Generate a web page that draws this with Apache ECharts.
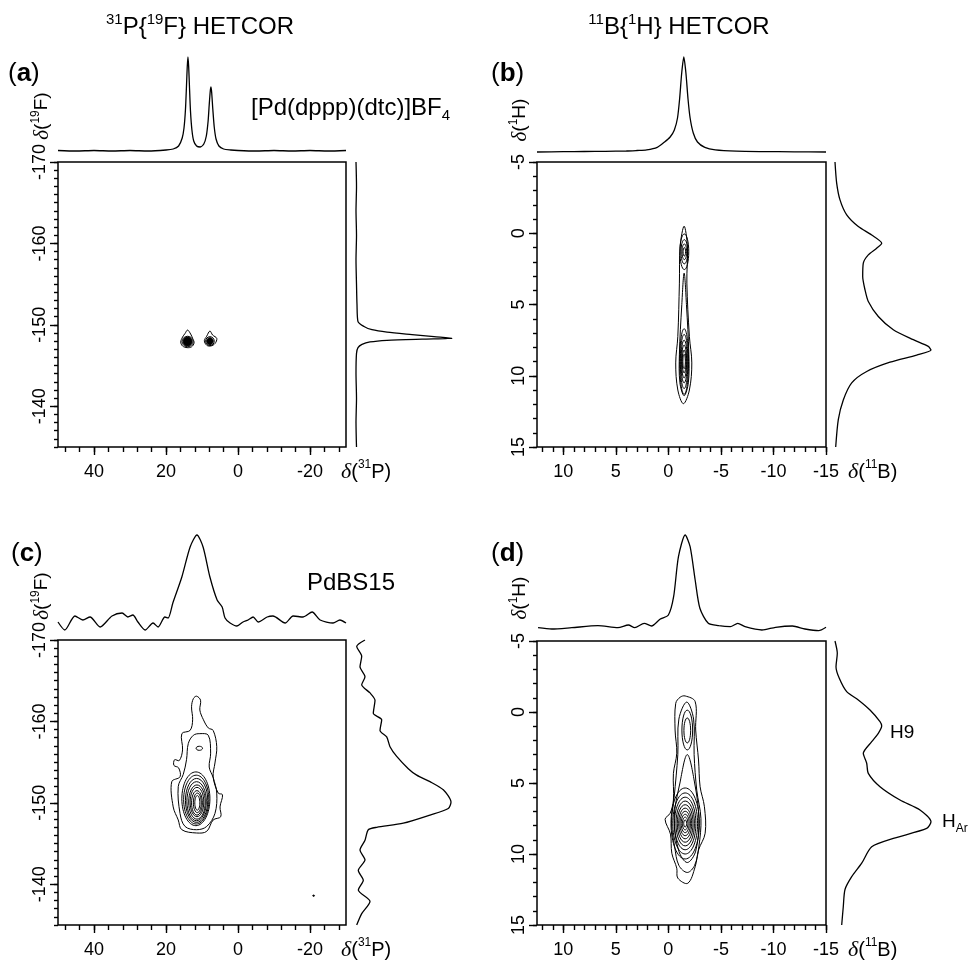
<!DOCTYPE html>
<html>
<head>
<meta charset="utf-8">
<script src="https://cdn.jsdelivr.net/npm/echarts@6/dist/echarts.min.js"></script>
<style>
  html, body { margin: 0; padding: 0; background: #fff; }
  #main { width: 970px; height: 961px; }
</style>
</head>
<body>
<div id="main"></div>
<script>
// ---- tick labels ----
const pTicks = [40, 20, 0, -20];            // δ(31P), panels a / c
const fTicks = [-170, -160, -150, -140];    // δ(19F)
const bTicks = [10, 5, 0, -5, -10, -15];    // δ(11B), panels b / d
const hTicks = [-5, 0, 5, 10, 15];          // δ(1H)

// ---- projections: top = [ppm, intensity], right = [intensity, ppm] ----
const projA_top = [[50,4.5],[45,4],[40,4.5],[35,4],[30,4.5],[25,4],[20,5],[18,6],[16.5,9],[15.5,17],[15,27],[14.6,45],[14.3,70],[14.1,88],[13.9,98],[13.7,88],[13.5,70],[13.2,44],[12.8,25],[12.3,14],[11.5,9],[10.5,8],[9.5,11],[8.8,19],[8.3,34],[8.0,50],[7.7,64],[7.5,68],[7.3,62],[7.0,46],[6.6,28],[6.1,16],[5.3,9],[4,6],[2,5],[0,4.5],[-5,4],[-10,4.5],[-15,4],[-20,4.5],[-25,4],[-30,4.5]];
const projA_right = [[4,-170],[4.5,-167],[4,-164],[4.5,-161],[4,-158],[4.5,-155],[5,-152.5],[6,-150.4],[12,-149.8],[20,-149.4],[35,-149.1],[60,-148.8],[82,-148.55],[100,-148.35],[70,-148.25],[35,-148.1],[18,-147.9],[10,-147.6],[6,-147.2],[4.5,-146.5],[4,-144],[4.5,-141],[4,-138],[4.5,-135]];
const projB_top = [[12.5,3],[10,3.3],[8,3.5],[6,3.7],[4,4],[3,4.5],[2.06,5.1],[1.06,7.6],[0.36,13],[-0.17,18],[-0.57,25],[-0.87,37],[-1.07,56],[-1.27,82],[-1.47,98],[-1.67,82],[-1.87,56],[-2.07,37],[-2.37,22],[-2.77,13],[-3.47,7.6],[-4.47,5.1],[-6.47,3.8],[-9,3.4],[-12,3.2],[-15,3]];
const projB_right = [[3,-5],[4.7,-3.5],[8,-2.34],[14.7,-1.29],[26.3,-0.47],[39.7,0.12],[49.7,0.7],[44.7,1.05],[36.3,1.52],[31.3,2.1],[30.7,3.04],[33,3.97],[36.3,4.79],[46.3,5.84],[61.3,6.77],[81.3,7.47],[96.3,7.94],[99,8.2],[84.7,8.55],[58,9.05],[34.7,9.7],[19.7,10.5],[11.3,11.7],[6.3,13.08],[3.7,15]];
const projC_top = [[50,11],[48.1,3],[45.3,17],[43.1,13],[41.1,16],[38.3,6],[35,17],[32.2,20],[30.6,16],[29.2,18],[27.8,11],[25.8,3],[23.6,10],[22.2,6],[20.3,16],[19.4,15],[18.1,30],[15.6,56],[13.3,86],[11.4,98],[9.7,86],[7.8,56],[5.8,33],[4.4,26],[3.6,15],[2.2,10],[0.3,7],[-1.4,11],[-2.8,13],[-4.2,16],[-5.6,11],[-8.1,16],[-9.7,17],[-13.1,10],[-15.3,17],[-18.1,16],[-20.6,21],[-22.8,13],[-26.4,10],[-28.3,13],[-30,10]];
const projC_right = [[13,-170],[4.7,-169.2],[9.7,-168],[8,-166.7],[13,-165.5],[9.7,-164.5],[18,-163.5],[23,-162.6],[21.3,-161],[29.7,-160.2],[28,-158.9],[34.7,-158.1],[38,-156.9],[44.7,-155.7],[56.3,-154.2],[64.7,-153.4],[78,-152.6],[91.3,-151.6],[99,-150.1],[96.3,-149.3],[78,-148.5],[51.3,-147.5],[24.7,-147],[16.3,-146.7],[13,-145.4],[8,-144.2],[13,-143],[6.3,-141.7],[11.3,-140.5],[6.3,-139.3],[18,-137.9],[9.7,-136.4],[4.7,-135]];
const projD_top = [[12.4,5.3],[11.1,4],[9.2,5.3],[6.7,7.3],[4.8,5.3],[3.8,8],[3.2,5.3],[2.3,9.7],[1.6,7],[0.8,13.7],[0,18],[-0.5,36.3],[-0.96,76.3],[-1.6,98],[-2.07,86.3],[-2.55,53],[-3.0,24.7],[-3.8,9.7],[-4.8,7.3],[-5.9,6.3],[-6.6,9.7],[-7.3,6.3],[-8.9,3],[-10.2,5.7],[-11.8,7],[-13,4],[-14.3,2.3],[-15,5.7]];
const projD_right = [[3,-5],[5.3,-4.13],[4,-3.19],[7.3,-2.37],[14.7,-1.43],[26.3,-0.85],[38,-0.14],[48,0.68],[49.7,0.99],[46.3,1.5],[39.7,2.09],[31.3,2.91],[34.7,3.61],[36.3,4.32],[48,5.26],[68,6.2],[88,6.9],[99,7.73],[94.7,8.2],[61.3,8.9],[39.7,9.49],[29.7,10.65],[19.7,11.6],[13,12.5],[11.3,13.7],[9.7,15]];

// ---- contours: rings = [cx, cy, rx, ry, filled], outlines = [[x, y], ...] (ppm) ----
const ringsA = [[14.0,-147.95,1.55,0.65,0],[14.0,-147.95,1.25,0.55,1],[7.8,-148.0,1.2,0.55,0],[7.8,-148.0,0.9,0.42,1]];
const outlinesA = [
  [[14.0,-149.36],[13.15,-148.87],[12.6,-148.34],[12.2,-147.8],[12.9,-147.3],[14.1,-147.2],[15.4,-147.4],[15.9,-147.9],[15.4,-148.5],[14.7,-148.95]],
  [[7.8,-149.24],[7.05,-148.75],[5.9,-148.34],[6.4,-147.7],[7.6,-147.4],[8.7,-147.5],[9.35,-148.05],[8.7,-148.6]]
];
const ringsB = [[-1.52,1.3,0.42,1.25,0],[-1.52,1.3,0.32,0.85,0],[-1.52,1.3,0.22,0.55,0],[-1.52,1.3,0.12,0.3,0],
  [-1.5,9.0,0.42,2.3,0],[-1.5,9.0,0.36,1.9,0],[-1.5,9.0,0.3,1.5,0],[-1.5,9.0,0.24,1.15,0],[-1.5,9.0,0.18,0.8,0],[-1.5,9.0,0.12,0.5,0]];
const outlinesB = [
  [[-1.5,-0.5],[-1.81,0.93],[-1.76,3.5],[-2.0,7.24],[-2.23,9.1],[-2.0,11.0],[-1.43,11.96],[-0.9,11.0],[-0.7,9.1],[-0.9,7.24],[-1.05,3.5],[-1.12,0.93]],
  [[-1.5,2.8],[-1.72,5.0],[-1.95,8.5],[-1.9,10.5],[-1.5,11.4],[-1.1,10.5],[-1.05,8.5],[-1.28,5.0]]
];
const ringsC = [[11.3,-150.0,0.7,0.9,0],[11.3,-150.0,1.1,1.2,0],[11.4,-150.0,1.5,1.5,0],[11.4,-150.1,1.9,1.8,0],[11.4,-150.1,2.3,2.1,0],
  [11.5,-150.2,2.7,2.4,0],[11.5,-150.3,3.1,2.7,0],[11.6,-150.4,3.5,3.0,0],[11.7,-150.5,3.9,3.3,0],[10.75,-156.7,0.9,0.25,0],[-21,-138.6,0.25,0.08,1]];
const outlinesC = [
  [[11.5,-163.1],[10.4,-162.6],[10.6,-161.4],[9.6,-160.2],[8.25,-159.2],[6.9,-158.9],[5.9,-156.9],[6.4,-154.9],[6.9,-153.2],[5.5,-151.2],[4.3,-151.0],[5.0,-149.5],[4.8,-148.3],[6.9,-147.9],[8.7,-146.5],[11.5,-146.3],[15.6,-146.7],[16.6,-147.9],[18.0,-149.5],[18.4,-152.6],[16.1,-153.2],[16.5,-154.3],[17.8,-154.6],[17.6,-155.3],[16.3,-155.2],[15.4,-156.5],[15.6,-158.5],[13.3,-158.9],[12.6,-160.2],[12.9,-161.8],[12.4,-162.8]],
  [[10.6,-158.5],[8.25,-158.3],[7.6,-156.1],[8.0,-154.4],[6.9,-153.1],[5.9,-151.2],[6.4,-148.7],[8.7,-147.1],[11.5,-146.7],[14.7,-147.1],[16.1,-148.7],[16.6,-152.0],[15.2,-153.5],[14.3,-155.3],[13.8,-157.3],[12.4,-158.3]]
];
const ringsD = [[-1.8,1.27,0.51,1.4,0],[-1.8,1.3,0.32,0.88,0],
  [-1.6,7.85,1.35,2.5,0],[-1.6,7.85,1.18,2.15,0],[-1.6,7.85,1.02,1.85,0],[-1.6,7.85,0.88,1.58,0],[-1.6,7.85,0.75,1.32,0],
  [-1.6,7.85,0.62,1.08,0],[-1.6,7.85,0.5,0.86,0],[-1.6,7.85,0.38,0.65,0],[-1.6,7.85,0.26,0.45,0],[-1.6,7.85,0.14,0.25,0]];
const outlinesD = [
  [[-1.6,-1.13],[-2.55,-0.73],[-2.6,1.27],[-2.87,3.38],[-3.02,5.26],[-3.43,6.67],[-3.5,8.54],[-2.87,9.72],[-2.55,10.9],[-1.85,12.06],[-0.9,11.7],[-0.8,11.0],[-0.33,9.95],[-0.2,8.6],[0.31,7.56],[-0.17,7.13],[-0.48,6.2],[-0.48,4.32],[-0.8,2.9],[-0.64,1.27],[-0.7,-0.61],[-1.12,-1.04]],
  [[-1.75,-0.7],[-2.4,0.5],[-2.45,3],[-2.7,5.5],[-3.1,7.5],[-2.9,9.5],[-2.5,10.8],[-1.8,11.3],[-1.0,10.8],[-0.6,9.5],[-0.3,7.8],[-0.55,6],[-0.9,3],[-1.0,0.5]],
  [[-1.8,3.0],[-2.5,5.0],[-2.9,7.5],[-2.6,9.8],[-1.8,10.6],[-1.0,9.8],[-0.55,7.5],[-1.1,5.0]]
];

// minor tick positions
function range(a, b, step) {
  const out = [];
  for (let v = a; v <= b + 1e-9; v += step) out.push(Math.round(v * 100) / 100);
  return out;
}
const pMinor = range(-28, 48, 4);
const fMinor = range(-170, -135, 1);
const bMinor = range(-15, 12, 1);
const hMinor = range(-5, 15, 1);

const FONT = 'Liberation Sans';
const panels = [
  { box: [58, 162, 288, 285], topY: 55, rightX: 352, x: [-30, 50], y: [-170, -135],
    xLab: pTicks, xMin: pMinor, yLab: fTicks, yMin: fMinor,
    top: projA_top, right: projA_right, rings: ringsA, outlines: outlinesA },
  { box: [537, 162, 289, 285], topY: 55, rightX: 832, x: [-15, 12.5], y: [-5, 15],
    xLab: bTicks, xMin: bMinor, yLab: hTicks, yMin: hMinor,
    top: projB_top, right: projB_right, rings: ringsB, outlines: outlinesB },
  { box: [58, 640, 288, 285], topY: 533, rightX: 352, x: [-30, 50], y: [-170, -135],
    xLab: pTicks, xMin: pMinor, yLab: fTicks, yMin: fMinor,
    top: projC_top, right: projC_right, rings: ringsC, outlines: outlinesC },
  { box: [537, 641, 289, 284], topY: 533, rightX: 832, x: [-15, 12.5], y: [-5, 15],
    xLab: bTicks, xMin: bMinor, yLab: hTicks, yMin: hMinor,
    top: projD_top, right: projD_right, rings: ringsD, outlines: outlinesD }
];

const grids = [], xAxes = [], yAxes = [], series = [];
const tickLine = { color: '#000', width: 1.4 };
const labelStyle = { color: '#000', fontFamily: FONT, fontSize: 18 };

function hiddenAxis(gi, min, max, inverse) {
  return { type: 'value', gridIndex: gi, min: min, max: max, inverse: inverse, show: false,
    axisLine: { onZero: false } };
}
// an axis of the main box: labelled major ticks or plain minor ticks
function boxAxis(gi, range, pos, ticks, len, labels, extra) {
  return { type: 'value', gridIndex: gi, min: range[0], max: range[1], inverse: true, position: pos,
    axisLine: { show: false, onZero: false }, splitLine: { show: false },
    axisTick: { show: true, customValues: ticks, length: len, lineStyle: tickLine },
    axisLabel: labels ? Object.assign({ customValues: ticks }, labelStyle, extra) : { show: false } };
}

panels.forEach(function (p) {
  const [L, T, W, H] = p.box;
  const gMain = grids.length;
  grids.push({ left: L, top: T, width: W, height: H, show: true, borderColor: '#000', borderWidth: 1.5,
    backgroundColor: 'transparent', outerBoundsMode: 'none' });
  grids.push({ left: L, top: p.topY, width: W, height: 100, outerBoundsMode: 'none' });
  grids.push({ left: p.rightX, top: T, width: 100, height: H, outerBoundsMode: 'none' });

  const xi = xAxes.length, yi = yAxes.length;
  xAxes.push(boxAxis(gMain, p.x, 'bottom', p.xLab, 8, true, { margin: 16 }));
  xAxes.push(boxAxis(gMain, p.x, 'bottom', p.xMin, 5, false));
  yAxes.push(boxAxis(gMain, p.y, 'left', p.yLab, 8, true, { margin: 9, rotate: 90 }));
  yAxes.push(boxAxis(gMain, p.y, 'left', p.yMin, 4, false));

  // top projection
  const xt = xAxes.length, yt = yAxes.length;
  xAxes.push(hiddenAxis(gMain + 1, p.x[0], p.x[1], true));
  yAxes.push(hiddenAxis(gMain + 1, 0, 100, false));
  // right projection
  const xr = xAxes.length, yr = yAxes.length;
  xAxes.push(hiddenAxis(gMain + 2, 0, 100, false));
  yAxes.push(hiddenAxis(gMain + 2, p.y[0], p.y[1], true));

  const line = { color: '#000', width: 1.3 };
  series.push({ type: 'line', xAxisIndex: xt, yAxisIndex: yt, data: p.top, showSymbol: false,
    smooth: 0.25, lineStyle: line });
  series.push({ type: 'line', xAxisIndex: xr, yAxisIndex: yr, data: p.right, showSymbol: false,
    smooth: 0.25, lineStyle: line });

  // contour rings
  series.push({ type: 'custom', xAxisIndex: xi, yAxisIndex: yi, data: p.rings,
    renderItem: function (params, api) {
      const c = api.coord([api.value(0), api.value(1)]);
      const s = api.size([api.value(2), api.value(3)]);
      return { type: 'ellipse', shape: { cx: c[0], cy: c[1], rx: s[0], ry: s[1] },
        style: { fill: api.value(4) ? '#000' : 'none', stroke: '#000', lineWidth: 1 } };
    } });
  // irregular contour outlines
  const outl = p.outlines;
  series.push({ type: 'custom', xAxisIndex: xi, yAxisIndex: yi,
    data: outl.map(function (o, i) { return [o[0][0], o[0][1], i]; }),
    renderItem: function (params, api) {
      const pts = outl[params.dataIndex].map(function (pt) { return api.coord(pt); });
      return { type: 'polygon', shape: { points: pts, smooth: 0.35 },
        style: { fill: 'none', stroke: '#000', lineWidth: 1 } };
    } });
});

// ---- texts ----
function rich(size) {
  const s = Math.round(size * 0.62);
  return {
    sup: { fontFamily: FONT, fontSize: s, verticalAlign: 'top', lineHeight: s },
    sub: { fontFamily: FONT, fontSize: s, verticalAlign: 'bottom', lineHeight: s },
    d: { fontFamily: 'Liberation Serif', fontStyle: 'italic', fontSize: size + 2 },
    b: { fontFamily: FONT, fontWeight: 'bold', fontSize: size }
  };
}
function txt(x, y, text, size, align, rot) {
  return { type: 'text', x: x, y: y, rotation: rot || 0,
    style: { text: text, fill: '#000', fontFamily: FONT, fontSize: size, lineHeight: size + 6,
      align: align || 'center', verticalAlign: 'middle', rich: rich(size) } };
}
const graphics = [
  txt(200, 27, '{sup|31}P{{sup|19}F} HETCOR', 24),
  txt(679, 27, '{sup|11}B{{sup|1}H} HETCOR', 24),
  txt(8, 74, '({b|a})', 26, 'left'),
  txt(491, 74, '({b|b})', 26, 'left'),
  txt(11, 554, '({b|c})', 26, 'left'),
  txt(491, 554, '({b|d})', 26, 'left'),
  txt(251, 108, '[Pd(dppp)(dtc)]BF{sub|4}', 24, 'left'),
  txt(307, 583, 'PdBS15', 24, 'left'),
  txt(341, 472, '{d|δ}({sup|31}P)', 20, 'left'),
  txt(341, 950, '{d|δ}({sup|31}P)', 20, 'left'),
  txt(848, 472, '{d|δ}({sup|11}B)', 20, 'left'),
  txt(848, 950, '{d|δ}({sup|11}B)', 20, 'left'),
  txt(42, 116, '{d|δ}({sup|19}F)', 19, 'center', Math.PI / 2),
  txt(42, 596, '{d|δ}({sup|19}F)', 19, 'center', Math.PI / 2),
  txt(520, 120, '{d|δ}({sup|1}H)', 19, 'center', Math.PI / 2),
  txt(520, 598, '{d|δ}({sup|1}H)', 19, 'center', Math.PI / 2),
  txt(890, 733, 'H9', 19, 'left'),
  txt(942, 822, 'H{sub|Ar}', 19, 'left')
];

const chart = echarts.init(document.getElementById('main'));
chart.setOption({
  animation: false,
  backgroundColor: '#fff',
  grid: grids,
  xAxis: xAxes,
  yAxis: yAxes,
  series: series,
  graphic: graphics
});
</script>
</body>
</html>
